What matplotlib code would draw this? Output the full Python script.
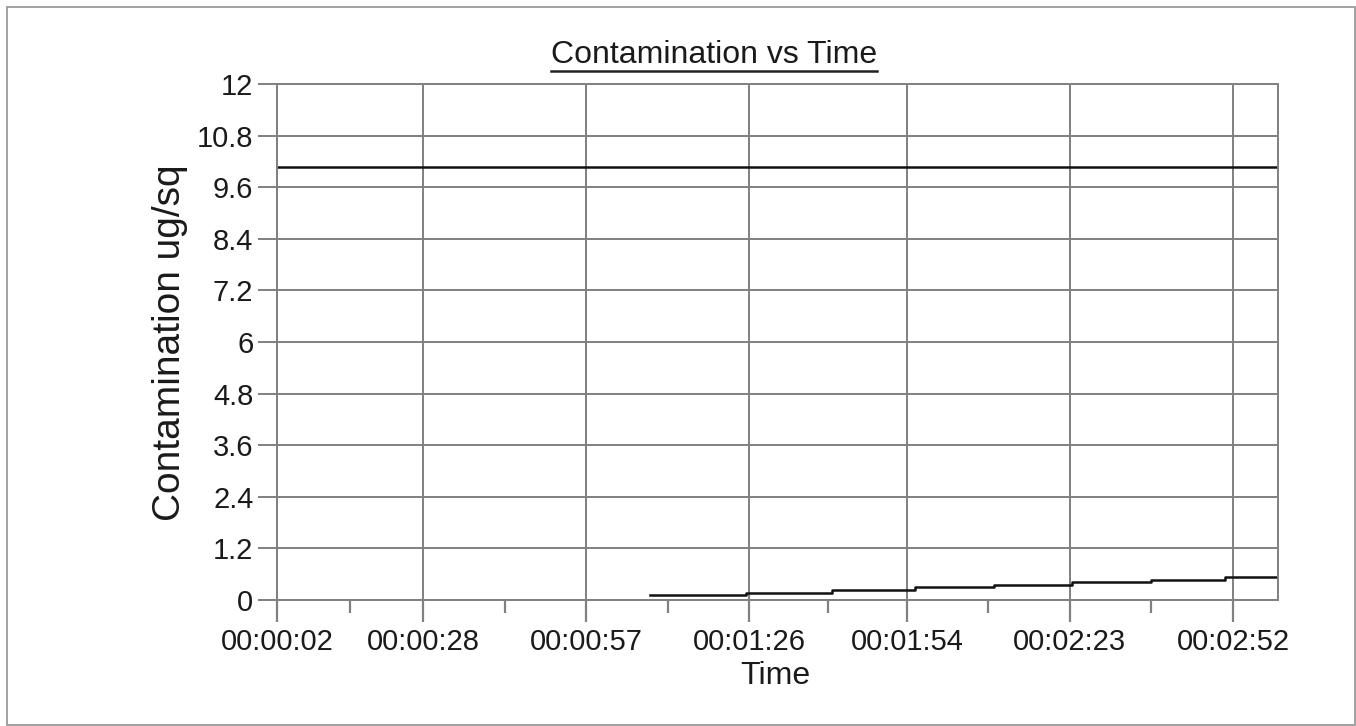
import matplotlib
matplotlib.use("Agg")
import matplotlib.pyplot as plt
from matplotlib.lines import Line2D
from matplotlib.patches import Rectangle
from matplotlib.ticker import FixedLocator

plt.rcParams['font.family'] = ['Liberation Sans', 'DejaVu Sans']

# ---- data (time in seconds) ----
upper_t = [2, 180]
upper_v = [10.08, 10.08]

lower_t = [68.4, 85.4, 100.7, 115.4, 129.5, 143.3, 157.5, 170.6, 179.8]
lower_v = [0.11, 0.17, 0.23, 0.30, 0.35, 0.42, 0.46, 0.53, 0.53]

x_major = [2, 28, 57, 86, 114, 143, 172]
x_labels = ["00:00:02", "00:00:28", "00:00:57", "00:01:26", "00:01:54", "00:02:23", "00:02:52"]
x_minor = [15, 42.5, 71.5, 100, 128.5, 157.5]
y_ticks = [0, 1.2, 2.4, 3.6, 4.8, 6, 7.2, 8.4, 9.6, 10.8, 12]
y_labels = ["0", "1.2", "2.4", "3.6", "4.8", "6", "7.2", "8.4", "9.6", "10.8", "12"]

W, H = 1356, 726
fig = plt.figure(figsize=(W / 100, H / 100), dpi=100)
fig.patch.set_facecolor("white")

# outer border
fig.add_artist(Rectangle((7 / W, 1 - 725 / H), (1355 - 7) / W, (725 - 7) / H,
                         transform=fig.transFigure, fill=False,
                         edgecolor="#9a9a9a", linewidth=1.3))

left, right, top, bottom = 277, 1278, 84, 600
ax = fig.add_axes([left / W, 1 - bottom / H, (right - left) / W, (bottom - top) / H])

grid_c = "#808080"
ax.set_xlim(2, 180)
ax.set_ylim(0, 12)
ax.xaxis.set_major_locator(FixedLocator(x_major))
ax.xaxis.set_minor_locator(FixedLocator(x_minor))
ax.set_xticklabels(x_labels)
ax.set_yticks(y_ticks)
ax.set_yticklabels(y_labels)

ax.grid(True, which="major", color=grid_c, linewidth=1.4)
ax.set_axisbelow(True)
for s in ax.spines.values():
    s.set_color(grid_c)
    s.set_linewidth(1.4)

ax.tick_params(axis="x", which="major", direction="out", length=16, width=1.6,
               color=grid_c, labelsize=21, pad=4, labelcolor="#1a1a1a")
ax.tick_params(axis="x", which="minor", direction="out", length=9, width=1.6,
               color=grid_c)
ax.tick_params(axis="y", which="major", direction="out", length=14, width=1.4,
               color=grid_c, labelsize=21, pad=3, labelcolor="#1a1a1a")

ax.plot(upper_t, upper_v, color="#111111", linewidth=1.8)
ax.plot(lower_t, lower_v, color="#111111", linewidth=1.8, drawstyle="steps-post")

ax.set_xlabel("Time", fontsize=23, color="#1a1a1a")
ax.xaxis.set_label_coords((775 - left) / (right - left), (bottom - 661) / (bottom - top))
ax.xaxis.label.set_va("top")

ax.set_ylabel("Contamination ug/sq", fontsize=28, color="#1a1a1a")
ax.yaxis.label.set_va("center")
ax.yaxis.set_label_coords((170 - left) / (right - left), (bottom - 343) / (bottom - top))

title = fig.text(714 / W, 1 - 55 / H, "Contamination vs Time", fontsize=23,
                 ha="center", va="center", color="#1a1a1a")

fig.canvas.draw()
bb = title.get_window_extent()
uy = (bb.y0 - 1) / H
fig.add_artist(Line2D([bb.x0 / W, bb.x1 / W], [uy, uy], transform=fig.transFigure,
                      color="#222222", linewidth=1.8))

fig.savefig("out.png", dpi=100)
